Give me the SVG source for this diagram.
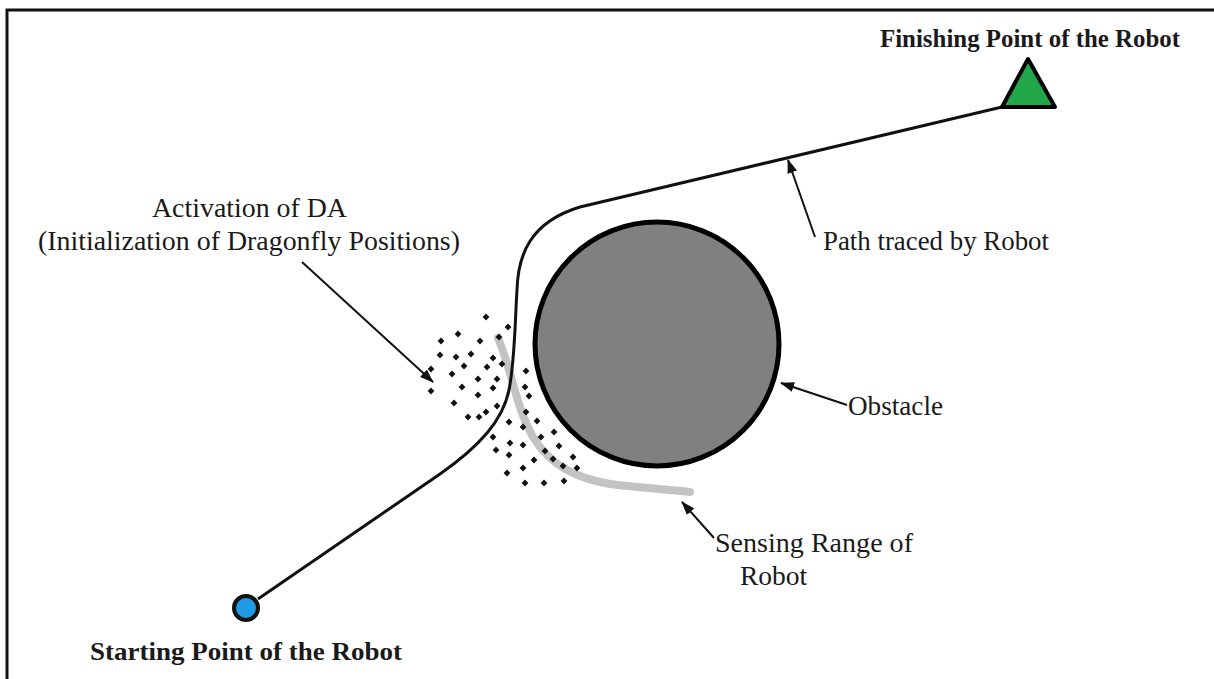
<svg xmlns="http://www.w3.org/2000/svg" width="1214" height="679" viewBox="0 0 1214 679">
<defs>
<style>
.lbl{font-family:"Liberation Serif","Times New Roman",serif;font-size:27.5px;fill:#1a1a1a}
.bold{font-family:"Liberation Serif","Times New Roman",serif;font-size:25px;font-weight:bold;fill:#1a1a1a}
.arrow{stroke:#111;stroke-width:2;fill:none;marker-end:url(#ah)}
.dot{fill:#111}
</style>
<marker id="ah" viewBox="0 0 14 10" refX="13" refY="5" markerWidth="14" markerHeight="10" markerUnits="userSpaceOnUse" orient="auto">
<path d="M0,0 L14,5 L0,10 Z" fill="#111"/>
</marker>
<path id="d" d="M0,-3.4 L3.4,0 L0,3.4 L-3.4,0 Z"/>
</defs>
<rect x="0" y="0" width="1214" height="679" fill="#fff"/>
<path d="M7,679 L7,10 L1214,10" fill="none" stroke="#111" stroke-width="3"/>

<g id="sensing-range">
<path d="M498,338 C512,370 515,405 533,437 C550,465 575,478 610,484 C640,488 665,489 690,492" fill="none" stroke="#c3c3c3" stroke-width="8" stroke-linecap="round"/>
</g>

<g id="dragonflies" class="dot">
<use href="#d" x="486" y="317"/><use href="#d" x="508" y="327"/><use href="#d" x="458" y="334"/><use href="#d" x="441" y="341"/><use href="#d" x="480" y="341"/><use href="#d" x="499" y="337"/><use href="#d" x="440" y="355"/><use href="#d" x="456" y="357"/><use href="#d" x="471" y="354"/><use href="#d" x="493" y="358"/><use href="#d" x="464" y="366"/><use href="#d" x="487" y="367"/><use href="#d" x="502" y="364"/><use href="#d" x="431" y="369"/><use href="#d" x="452" y="374"/><use href="#d" x="478" y="379"/><use href="#d" x="497" y="379"/><use href="#d" x="526" y="371"/><use href="#d" x="462" y="387"/><use href="#d" x="493" y="388"/><use href="#d" x="525" y="387"/><use href="#d" x="431" y="391"/><use href="#d" x="478" y="395"/><use href="#d" x="529" y="396"/><use href="#d" x="454" y="403"/><use href="#d" x="497" y="406"/><use href="#d" x="486" y="412"/><use href="#d" x="526" y="412"/><use href="#d" x="468" y="417"/><use href="#d" x="479" y="417"/><use href="#d" x="509" y="422"/><use href="#d" x="537" y="421"/><use href="#d" x="523" y="427"/><use href="#d" x="554" y="432"/><use href="#d" x="493" y="437"/><use href="#d" x="541" y="437"/><use href="#d" x="510" y="443"/><use href="#d" x="523" y="445"/><use href="#d" x="559" y="446"/><use href="#d" x="496" y="450"/><use href="#d" x="545" y="451"/><use href="#d" x="509" y="455"/><use href="#d" x="534" y="460"/><use href="#d" x="553" y="459"/><use href="#d" x="573" y="457"/><use href="#d" x="563" y="466"/><use href="#d" x="523" y="468"/><use href="#d" x="577" y="468"/><use href="#d" x="507" y="473"/><use href="#d" x="525" y="483"/><use href="#d" x="544" y="483"/><use href="#d" x="564" y="481"/>
</g>

<g id="connectors">
<path id="robot-path" d="M258,599 L440,474 C480,446 503,420 509,390 C515,360 515,320 517,290 C518,255 530,222 580,207 L1002,107" fill="none" stroke="#111" stroke-width="3"/>
<line class="arrow" x1="302" y1="262" x2="433" y2="382"/>
<line class="arrow" x1="815" y1="237" x2="788" y2="160"/>
<line class="arrow" x1="847" y1="405" x2="781" y2="383"/>
<line class="arrow" x1="714" y1="538" x2="682" y2="502"/>
</g>

<g id="obstacle">
<circle cx="657" cy="344" r="122" fill="#808080" stroke="#000" stroke-width="5"/>
</g>

<g id="start">
<circle cx="246" cy="608" r="12" fill="#1e9be2" stroke="#111" stroke-width="4"/>
</g>

<g id="finish">
<polygon points="1028,59 1002,107 1055,107" fill="#22a64a" stroke="#000" stroke-width="4" stroke-linejoin="round"/>
</g>

<g id="labels">
<text class="bold" x="880" y="47" textLength="300" lengthAdjust="spacingAndGlyphs">Finishing Point of the Robot</text>
<text class="bold" x="90" y="660" textLength="312" lengthAdjust="spacingAndGlyphs">Starting Point of the Robot</text>
<text class="lbl" x="152" y="217" textLength="195" lengthAdjust="spacingAndGlyphs">Activation of DA</text>
<text class="lbl" x="38" y="250" textLength="422" lengthAdjust="spacingAndGlyphs">(Initialization of Dragonfly Positions)</text>
<text class="lbl" x="823" y="250" textLength="226" lengthAdjust="spacingAndGlyphs">Path traced by Robot</text>
<text class="lbl" x="848" y="415" textLength="95" lengthAdjust="spacingAndGlyphs">Obstacle</text>
<text class="lbl" x="715" y="552" textLength="198" lengthAdjust="spacingAndGlyphs">Sensing Range of</text>
<text class="lbl" x="740" y="585">Robot</text>
</g>
</svg>
